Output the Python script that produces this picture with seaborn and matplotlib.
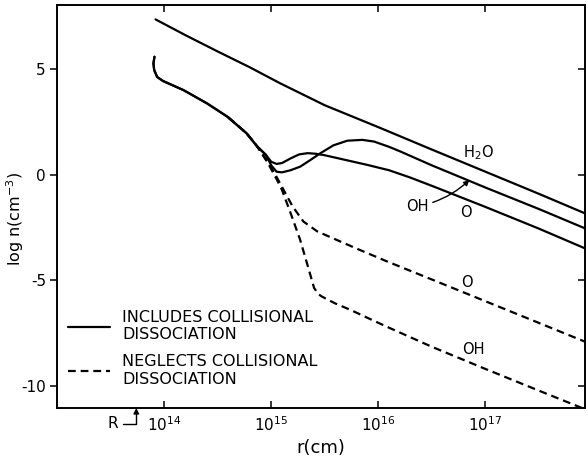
import numpy as np
import pandas as pd
import matplotlib
matplotlib.use('Agg')
import matplotlib.pyplot as plt
import seaborn as sns
from matplotlib.lines import Line2D
from matplotlib.ticker import NullLocator

# log10 r (cm) and log n (cm^-3)
lr_h2o = [13.92, 14.2, 14.5, 14.8, 15.08, 15.5, 16.02, 16.5, 17.0, 17.5, 17.96]
n_h2o = [7.37, 6.62, 5.85, 5.1, 4.35, 3.3, 2.22, 1.2, 0.15, -0.9, -1.89]

# shared start (hook) of the O / OH curves
lr_hook = [13.91, 13.90, 13.907, 13.935, 13.99, 14.18, 14.4, 14.59, 14.77, 14.87, 14.95]
n_hook = [5.60, 5.29, 4.97, 4.64, 4.45, 4.02, 3.39, 2.76, 1.97, 1.34, 0.95]

# includes collisional dissociation
lr_o_inc = [15.0, 15.05, 15.1, 15.18, 15.26, 15.34, 15.42, 15.5, 15.7, 15.9, 16.1, 16.3,
            16.5, 17.0, 17.5, 17.96]
n_o_inc = [0.62, 0.52, 0.56, 0.78, 0.97, 1.03, 1.0, 0.93, 0.7, 0.47, 0.22, -0.13,
           -0.52, -1.52, -2.55, -3.55]
lr_oh_inc = [15.0, 15.05, 15.1, 15.18, 15.27, 15.37, 15.46, 15.58, 15.71, 15.85, 15.96, 16.1,
             16.21, 16.5, 17.0, 17.5, 17.96]
n_oh_inc = [0.45, 0.15, 0.12, 0.22, 0.39, 0.72, 1.03, 1.4, 1.62, 1.66, 1.58, 1.33,
            1.10, 0.45, -0.6, -1.62, -2.60]

# neglects collisional dissociation
lr_o_neg = [14.6, 14.77, 14.87, 14.97, 15.05, 15.115, 15.2, 15.30, 15.43, 15.61, 15.8, 16.08,
            16.5, 17.0, 17.5, 17.96]
n_o_neg = [2.72, 1.97, 1.34, 0.6, -0.1, -0.71, -1.5, -2.21, -2.68, -3.08, -3.5, -4.10,
           -4.96, -5.99, -7.02, -7.97]
lr_oh_neg = [14.6, 14.77, 14.87, 14.97, 15.05, 15.10, 15.18, 15.27, 15.36, 15.40, 15.44, 15.47,
             15.6, 15.74, 15.9, 16.08, 16.5, 17.0, 17.5, 17.96]
n_oh_neg = [2.72, 1.97, 1.34, 0.55, -0.2, -0.71, -1.8, -3.08, -4.65, -5.36, -5.65, -5.76,
            -6.1, -6.4, -6.78, -7.2, -8.15, -9.2, -10.23, -11.17]

lr_R = 13.74
x_ticks = [14, 15, 16, 17]
y_ticks = [-10, -5, 0, 5]
y_ticklabels = ['-10', '-5', '0', '5']

sns.set_style('ticks')
plt.rcParams['font.family'] = ['DejaVu Sans']
plt.rcParams['axes.unicode_minus'] = False
for k in ['text.color', 'axes.labelcolor', 'xtick.color', 'ytick.color', 'axes.edgecolor']:
    plt.rcParams[k] = 'black'

fig = plt.figure(figsize=(5.88, 4.61), dpi=100)
ax = fig.add_axes([0.097, 0.115, 0.898, 0.874])

lw = 1.6
solid = [(lr_h2o, n_h2o),
         (lr_hook + lr_o_inc, n_hook + n_o_inc),
         (lr_hook + lr_oh_inc, n_hook + n_oh_inc)]
for lr, n in solid:
    sns.lineplot(x=10 ** np.array(lr), y=n, ax=ax, color='black', lw=lw,
                 sort=False, estimator=None)
for lr, n in [(lr_o_neg, n_o_neg), (lr_oh_neg, n_oh_neg)]:
    sns.lineplot(x=10 ** np.array(lr), y=n, ax=ax, color='black', lw=lw,
                 sort=False, estimator=None)
    ax.lines[-1].set_dashes([3.5, 2.2])

ax.set_xscale('log')
ax.set_xlim(1e13, 10 ** 17.93)
ax.set_ylim(-11.05, 8.05)
ax.set_xticks([10.0 ** t for t in x_ticks])
ax.xaxis.set_minor_locator(NullLocator())
ax.set_yticks(y_ticks)
ax.set_yticklabels(y_ticklabels)

for s in ax.spines.values():
    s.set_linewidth(1.2)
    s.set_visible(True)
ax.tick_params(axis='x', direction='in', top=True, length=5, width=1.1, labelsize=11, pad=5)
ax.tick_params(axis='y', direction='out', length=5, width=1.1, labelsize=11, pad=3)
ax2 = ax.twinx()
ax2.set_ylim(ax.get_ylim())
ax2.set_yticks(y_ticks)
ax2.tick_params(axis='y', direction='in', length=5, width=1.1, labelright=False)
for s in ax2.spines.values():
    s.set_linewidth(1.2)

ax.set_xlabel('r(cm)', fontsize=13, labelpad=4)
ax.set_ylabel('log n(cm$^{-3}$)', fontsize=11.5)
ax.yaxis.set_label_coords(-0.058, 0.47)

lab = dict(fontsize=10.5, ha='center', va='center', color='black')
ax.text(10 ** 16.93, 1.04, 'H$_2$O', **lab)
ax.text(10 ** 16.82, -1.80, 'O', **lab)
ax.text(10 ** 16.83, -5.11, 'O', **lab)
ax.text(10 ** 16.89, -8.28, 'OH', **lab)
ax.annotate('OH', xy=(10 ** 16.85, -0.24), xytext=(10 ** 16.36, -1.5), **lab,
            arrowprops=dict(arrowstyle='-|>', color='black', lw=1.0, mutation_scale=8,
                            connectionstyle='arc3,rad=0.15', shrinkA=1, shrinkB=0))
ax.annotate('R', xy=(10 ** lr_R, 0), xycoords=('data', 'axes fraction'),
            xytext=(-17, -11.5), textcoords='offset points', fontsize=11,
            ha='center', va='center', annotation_clip=False,
            arrowprops=dict(arrowstyle='-|>', color='black', lw=1.0, mutation_scale=8,
                            connectionstyle='angle,angleA=0,angleB=90,rad=0',
                            shrinkA=1, shrinkB=0))

handles = [Line2D([], [], color='black', lw=lw),
           Line2D([], [], color='black', lw=lw, dashes=[3.5, 2.2])]
ax.legend(handles, ['INCLUDES COLLISIONAL\nDISSOCIATION', 'NEGLECTS COLLISIONAL\nDISSOCIATION'],
          loc='upper left', bbox_to_anchor=(0.021, 0.243), frameon=False, fontsize=11.5,
          handlelength=2.6, handletextpad=0.8, labelspacing=0.75, borderpad=0, borderaxespad=0)

fig.savefig('out.png', dpi=100)
